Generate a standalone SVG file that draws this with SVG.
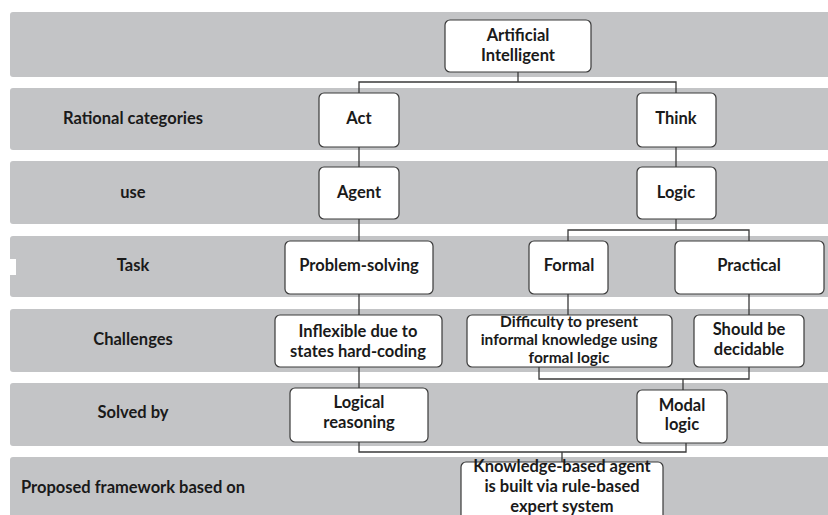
<svg xmlns="http://www.w3.org/2000/svg" width="828" height="515" viewBox="0 0 828 515">
  <style>
    .band { fill: #c3c4c6; }
    .box { fill: #ffffff; stroke: #3a3a3a; stroke-width: 1.2; }
    .lbl { font-family: Lato, "Liberation Sans", sans-serif; font-weight: 700; font-size: 16.5px; fill: #1a1a1a; text-anchor: middle; }
    .tight { font-size: 15.5px; }
    .wire { fill: none; stroke: #3a3a3a; stroke-width: 1.3; }
  </style>
  <rect width="828" height="515" fill="#ffffff"/>

  <!-- horizontal bands, one per level -->
  <g id="bands">
    <rect class="band" x="10" y="12" width="820" height="65" rx="3"/>
    <rect class="band" x="10" y="88" width="820" height="62" rx="3"/>
    <rect class="band" x="10" y="161" width="820" height="63" rx="3"/>
    <rect class="band" x="10" y="236" width="820" height="61" rx="3"/>
    <rect class="band" x="10" y="309" width="820" height="63" rx="3"/>
    <rect class="band" x="10" y="383" width="820" height="63" rx="3"/>
    <rect class="band" x="10" y="457" width="820" height="62" rx="3"/>
    <rect x="8" y="259" width="8" height="16" fill="#ffffff"/>
  </g>

  <!-- level labels -->
  <g id="level-labels">
    <text class="lbl" x="133" y="124">Rational categories</text>
    <text class="lbl" x="133" y="198">use</text>
    <text class="lbl" x="133" y="271">Task</text>
    <text class="lbl" x="133" y="345">Challenges</text>
    <text class="lbl" x="133" y="418">Solved by</text>
    <text class="lbl" x="133" y="493">Proposed framework based on</text>
  </g>

  <!-- connectors -->
  <g id="connectors">
    <path class="wire" d="M518 72 V82 M359 93 V82 H676 V93"/>
    <path class="wire" d="M359 147 V167 M359 219 V241 M359 294 V315 M359 367 V388"/>
    <path class="wire" d="M676 147 V167"/>
    <path class="wire" d="M676 219 V230 M568 241 V230 H749 V241"/>
    <path class="wire" d="M568 294 V315 M749 294 V315"/>
    <path class="wire" d="M539 367 V379 H749 V367 M683 379 V390"/>
    <path class="wire" d="M359 442 V452 H686 V443 M562 452 V462"/>
  </g>

  <g id="n-ai">
    <rect class="box" x="445" y="20" width="146" height="52" rx="5"/>
    <text class="lbl" x="518" y="41">Artificial</text>
    <text class="lbl" x="518" y="61">Intelligent</text>
  </g>
  <g id="n-act">
    <rect class="box" x="319" y="93" width="80" height="54" rx="5"/>
    <text class="lbl" x="359" y="124">Act</text>
  </g>
  <g id="n-think">
    <rect class="box" x="637" y="93" width="79" height="54" rx="5"/>
    <text class="lbl" x="676" y="124">Think</text>
  </g>
  <g id="n-agent">
    <rect class="box" x="319" y="167" width="80" height="52" rx="5"/>
    <text class="lbl" x="359" y="198">Agent</text>
  </g>
  <g id="n-logic">
    <rect class="box" x="637" y="167" width="79" height="52" rx="5"/>
    <text class="lbl" x="676" y="198">Logic</text>
  </g>
  <g id="n-problem">
    <rect class="box" x="285" y="241" width="148" height="53" rx="5"/>
    <text class="lbl" x="359" y="271">Problem-solving</text>
  </g>
  <g id="n-formal">
    <rect class="box" x="529" y="241" width="79" height="53" rx="5"/>
    <text class="lbl" x="569" y="271">Formal</text>
  </g>
  <g id="n-practical">
    <rect class="box" x="675" y="241" width="149" height="53" rx="5"/>
    <text class="lbl" x="749" y="271">Practical</text>
  </g>
  <g id="n-inflexible">
    <rect class="box" x="275" y="315" width="167" height="52" rx="5"/>
    <text class="lbl" x="358" y="337">Inflexible due to</text>
    <text class="lbl" x="358" y="357">states hard-coding</text>
  </g>
  <g id="n-difficulty">
    <rect class="box" x="467" y="315" width="205" height="52" rx="5"/>
    <text class="lbl tight" x="569" y="327">Difficulty to present</text>
    <text class="lbl tight" x="569" y="345">informal knowledge using</text>
    <text class="lbl tight" x="569" y="363">formal logic</text>
  </g>
  <g id="n-decidable">
    <rect class="box" x="694" y="315" width="110" height="52" rx="5"/>
    <text class="lbl" x="749" y="335">Should be</text>
    <text class="lbl" x="749" y="355">decidable</text>
  </g>
  <g id="n-reasoning">
    <rect class="box" x="290" y="388" width="138" height="54" rx="5"/>
    <text class="lbl" x="359" y="408">Logical</text>
    <text class="lbl" x="359" y="428">reasoning</text>
  </g>
  <g id="n-modal">
    <rect class="box" x="637" y="390" width="90" height="53" rx="5"/>
    <text class="lbl" x="682" y="411">Modal</text>
    <text class="lbl" x="682" y="430">logic</text>
  </g>
  <g id="n-kb">
    <rect class="box" x="461" y="462" width="202" height="60" rx="5"/>
    <text class="lbl" x="562" y="472">Knowledge-based agent</text>
    <text class="lbl" x="562" y="492">is built via rule-based</text>
    <text class="lbl" x="562" y="512">expert system</text>
  </g>
</svg>
